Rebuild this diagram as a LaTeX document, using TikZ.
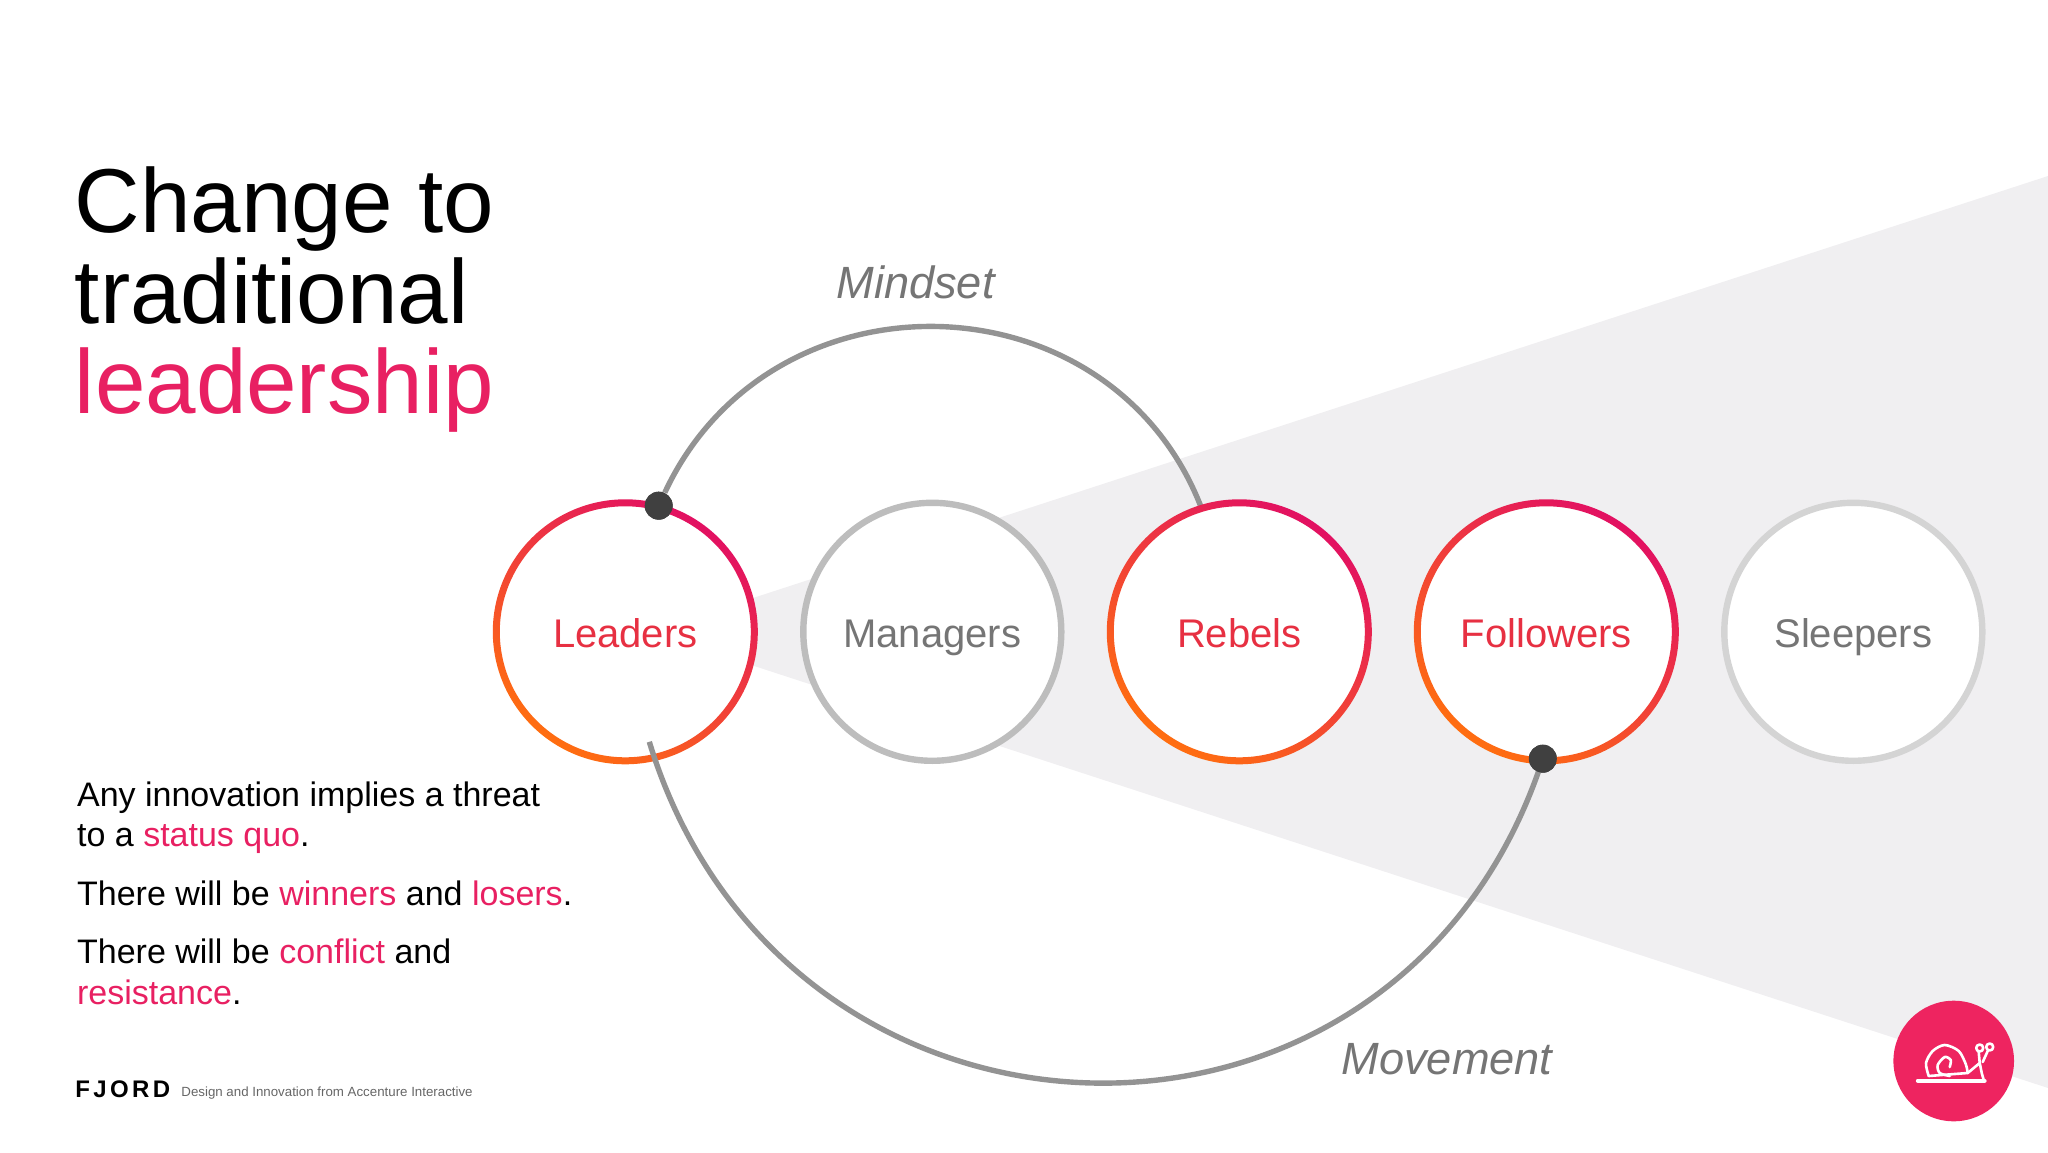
\documentclass[tikz,border=0pt]{standalone}
\usepackage{fontspec}
\setmainfont{Liberation Sans}
\newfontfamily\fjordfont[LetterSpace=14]{Liberation Sans}
\usetikzlibrary{positioning}
\pgfdeclarelayer{background1}
\pgfsetlayers{background1,main}

\begin{document}
\begin{tikzpicture}[x=0.5pt,y=0.5pt]

	\definecolor{pinkcolor}{RGB}{232,32,98}
	\definecolor{redcolor}{RGB}{231,48,66}
	\definecolor{badgecolor}{RGB}{238,36,96}
	\definecolor{labelcolor}{RGB}{117,117,117}
	\definecolor{wedgecolor}{RGB}{240,239,241}
	\definecolor{arccolor}{RGB}{147,147,147}
	\definecolor{dotcolor}{RGB}{64,64,64}
	\definecolor{ringtop}{RGB}{226,16,98}
	\definecolor{ringmid}{RGB}{238,44,72}
	\definecolor{ringlow}{RGB}{255,110,16}

	\tikzset{
		person/.style={circle,fill=white,minimum size=129pt,inner sep=0pt,outer sep=0pt,
			font=\fontsize{20}{22}\selectfont,text height=15.6pt,text depth=0pt},
		hot/.style={person,text=redcolor},
		cold/.style={person,text=labelcolor,draw=#1,line width=3.2pt},
		ring/.style={even odd rule,bottom color=ringlow,middle color=ringmid,top color=ringtop,shading angle=-35},
		arcline/.style={draw=arccolor,line width=2.7pt},
		pivot/.style={circle,fill=dotcolor,minimum size=14pt,inner sep=0pt},
		body/.style={anchor=north west,inner sep=0pt,align=left,font=\fontsize{17}{20.25}\selectfont},
		axislabel/.style={text=labelcolor,font=\fontsize{22.6}{26}\selectfont\itshape,inner sep=0pt},
		snail/.style={draw=white,line width=1.3pt,line cap=round,line join=round}
	}
	\newcommand{\hl}[1]{\textcolor{pinkcolor}{#1}}

	\useasboundingbox (0,0) rectangle (2048,1152);

	\node(leaders) [hot] at (625.3,520.2) {Leaders};
	\node(managers) [cold=black!26, right=24.5pt of leaders] {Managers};
	\node(rebels) [hot, right=24.5pt of managers] {Rebels};
	\node(followers) [hot, right=24.5pt of rebels] {Followers};
	\node(sleepers) [cold=black!17, right=24.5pt of followers] {Sleepers};

	\coordinate (apex) at ([xshift=12pt]leaders.center);
	\begin{pgfonlayer}{background1}
		\fill [wedgecolor] (apex) -- (2048,976) -- (2048,64) -- cycle;
	\end{pgfonlayer}

	\node(mindsetdot) [pivot,yshift=0.75pt] at (leaders.75) {};
	\node(movementdot) [pivot,xshift=0.5pt,yshift=1pt] at (followers.268.6) {};
	\coordinate (movementend) at ([shift={(12pt,-55pt)}]leaders.center);

	\draw [arcline] (mindsetdot) to[out=65,in=111,looseness=1.2] (rebels.107);

	\foreach \n in {leaders,rebels,followers}
		\shade [ring] (\n.center) circle[radius=132.5] circle[radius=125.5];

	\draw [arcline] (movementdot.center) to[out=252,in=287,looseness=1.33] (movementend);
	\node [pivot] at (mindsetdot) {};
	\node [pivot] at (movementdot) {};

	\node(mindset) [axislabel] at (915.5,869.5) {Mindset};
	\node(movement) [axislabel] at (1447,93) {Movement};

	\node(title) [anchor=north west,inner sep=0pt,align=left,font=\fontsize{45.4}{45.2}\selectfont] at (74.5,985.5)
		{Change to\\traditional\\\textcolor{pinkcolor}{leadership}};

	\node(para1) [body] at (76.7,371) {Any innovation implies a threat\\to a \hl{status quo}.};
	\node(para2) [body, below=13pt of para1.south west, anchor=north west] {There will be \hl{winners} and \hl{losers}.};
	\node(para3) [body, below=16.35pt of para2.south west, anchor=north west] {There will be \hl{conflict} and\\\hl{resistance}.};

	\node(fjord) [anchor=base west,inner sep=0pt,font=\fontsize{12}{14}\fjordfont\bfseries] at (75,55) {FJORD};
	\node(tagline) [anchor=base west,inner sep=0pt,text=black!60,font=\fontsize{6.65}{8}\selectfont] at (181,56)
		{Design and Innovation from Accenture Interactive};

	\node(badge) [circle,fill=badgecolor,minimum size=60.3pt,inner sep=0pt] at (1953.7,91) {};
	\begin{scope}[shift={(badge.center)}]
		\draw [snail,line width=2.2pt] (-35.7,-19.7) -- (30.7,-19.7);
		\draw [snail] plot[smooth] coordinates {(-25,-15) (-27.7,-2) (-21,10) (-9,16) (5,10) (12,-3) (14,-12)};
		\draw [snail] (-25,-15) -- (14,-12) -- (26,-2) -- (28,-12) -- (30,-19);
		\draw [snail] plot[smooth] coordinates {(-4,-15) (-14,-12) (-16,-4) (-9,4) (-3,1) (-4,-6)};
		\draw [snail] (26,-2) -- (25,9) (29,-1) -- (34,10);
		\draw [snail] (26,13) circle[radius=3.5] (36,14) circle[radius=3.5];
	\end{scope}

\end{tikzpicture}
\end{document}
